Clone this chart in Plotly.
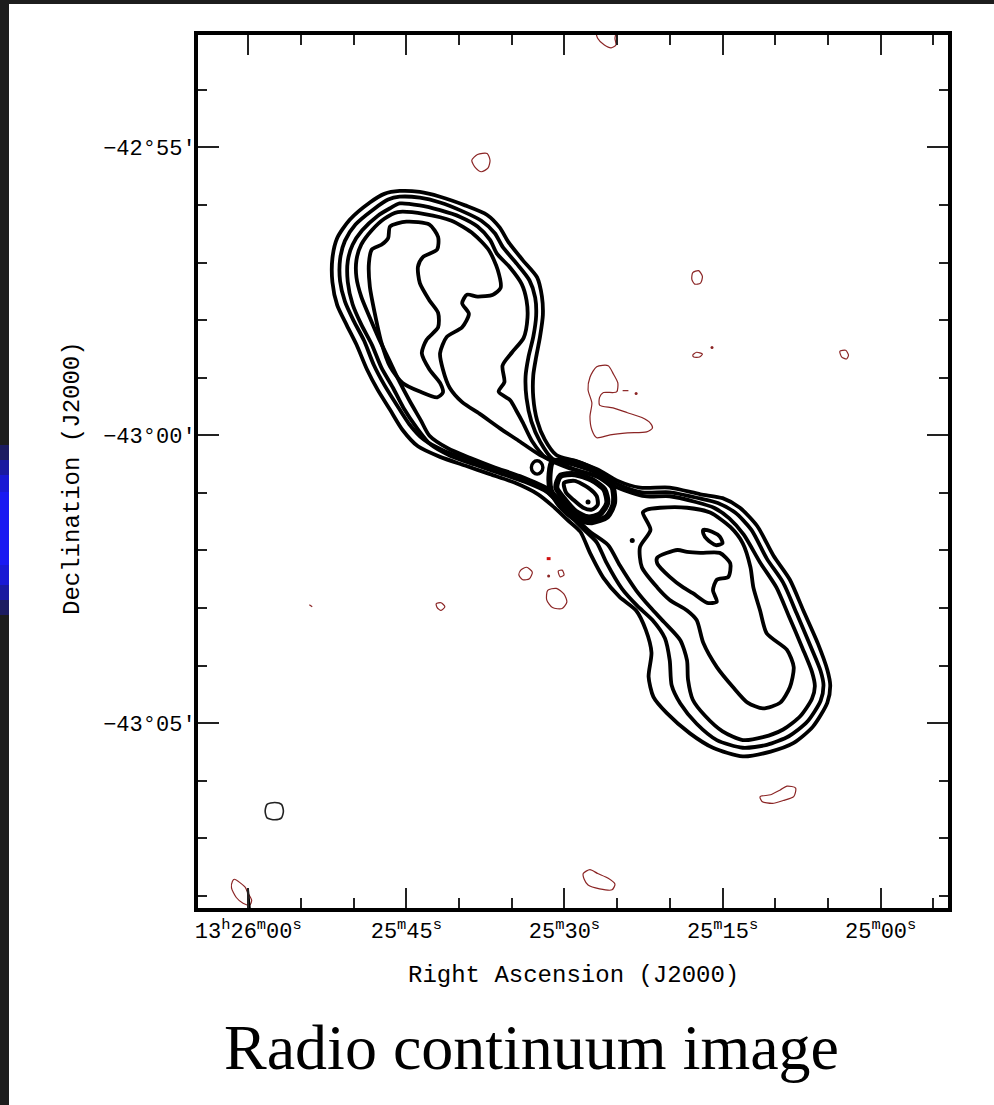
import math
import plotly.graph_objects as go

# Sky reference: the nucleus at RA 13h25m27.58s, Dec -43°01'09.5"
RA0_S = 27.58          # seconds of time past 13h25m00s
DEC0_ARCMIN = -1.158   # arcmin relative to -43°00'00"
COS_DEC = math.cos(math.radians(-43.0193))

# Contour vertices: (east, north) offsets from the nucleus in arcsec
level1_envelope = [
    (198, 324), (177, 323), (156, 318), (130, 309), (107, 299), (94, 286), (85, 271), (70, 252),
    (55, 234), (50, 214), (49, 195), (52, 172), (56, 151), (59, 132), (59, 109), (55, 85),
    (47, 65), (35, 49), (16, 43), (-8, 34), (-29, 22), (-52, 15), (-83, 15), (-115, 8),
    (-138, 4), (-156, -6), (-174, -25), (-191, -56), (-208, -81), (-222, -113), (-237, -147),
    (-247, -175), (-250, -191), (-247, -209), (-232, -234), (-212, -251), (-188, -260),
    (-159, -265), (-128, -256), (-104, -241), (-80, -220), (-66, -203), (-61, -182),
    (-64, -157), (-58, -133), (-48, -113), (-31, -99), (-14, -79), (0, -53), (10, -31),
    (23, -19), (39, -4), (54, 8), (78, 20), (104, 29), (130, 38), (156, 47), (179, 58),
    (195, 75), (208, 96), (221, 117), (232, 138), (243, 164), (253, 184), (263, 205),
    (268, 229), (268, 254), (263, 275), (250, 294), (229, 312), (214, 321),
]
level2_envelope = [
    (198, 318), (177, 317), (156, 312), (133, 303), (113, 293), (99, 280), (91, 266), (76, 248),
    (63, 231), (57, 213), (56, 194), (59, 172), (64, 151), (67, 131), (66, 108), (61, 84),
    (52, 63), (39, 45), (18, 39), (-8, 30), (-30, 18), (-54, 10), (-83, 10), (-113, 4),
    (-133, -1), (-151, -11), (-168, -29), (-184, -59), (-201, -84), (-215, -116), (-229, -149),
    (-240, -176), (-243, -191), (-240, -207), (-226, -229), (-207, -244), (-184, -253),
    (-159, -256), (-132, -248), (-111, -231), (-94, -210), (-85, -191), (-83, -165),
    (-78, -142), (-65, -123), (-49, -108), (-33, -90), (-17, -63), (-7, -42), (6, -29),
    (18, -17), (33, -1), (49, 14), (73, 26), (99, 35), (125, 44), (151, 53), (173, 65),
    (188, 81), (201, 101), (214, 122), (225, 143), (235, 168), (246, 189), (255, 209),
    (260, 230), (260, 253), (255, 272), (244, 289), (225, 305), (210, 315),
]
level3_envelope = [
    (198, 311), (177, 309), (156, 304), (135, 297), (117, 287), (104, 273), (97, 259), (83, 244),
    (71, 227), (66, 210), (65, 192), (69, 171), (81, 156), (91, 142), (89, 125), (95, 115),
    (83, 106), (76, 94), (70, 83),
    (60, 63), (46, 46), (21, 35), (-8, 27), (-31, 14), (-57, 6), (-83, 6), (-110, 0),
    (-129, -6), (-145, -17), (-160, -34), (-177, -63), (-194, -89), (-207, -119), (-221, -152),
    (-231, -177), (-234, -192), (-231, -205), (-219, -223), (-201, -237), (-180, -245),
    (-159, -248), (-138, -239), (-120, -223), (-107, -206), (-102, -185), (-101, -165),
    (-94, -144), (-77, -125), (-63, -110), (-48, -92), (-31, -66), (-19, -45), (0, -31),
    (13, -19), (28, -5), (44, 10), (68, 21), (94, 30), (120, 39), (145, 48), (166, 60),
    (180, 77), (194, 98), (205, 119), (217, 140), (227, 164), (238, 185), (247, 206),
    (252, 229), (252, 251), (247, 268), (237, 283), (221, 298), (208, 306),
]
level4_north = [
    (200, 302), (172, 300), (144, 293), (121, 279), (105, 262), (96, 242), (93, 223), (101, 216),
    (117, 214), (128, 216), (133, 207), (126, 196), (133, 182), (149, 172), (156, 155),
    (153, 138), (146, 119), (133, 104), (115, 92), (94, 77), (73, 63), (52, 49), (33, 41),
    (13, 33), (-10, 25), (-24, 13), (-23, -6), (-14, -17), (0, -20), (15, -13), (29, 0),
    (44, 14), (73, 27), (99, 36), (125, 46), (148, 56), (167, 69), (176, 85), (188, 106),
    (199, 127), (209, 148), (220, 171), (229, 192), (238, 214), (243, 234), (243, 252),
    (238, 268), (227, 283), (214, 295),
]
level5_north = [
    (208, 287), (191, 292), (167, 289), (158, 276), (159, 263), (174, 255), (179, 245),
    (177, 228), (167, 210), (158, 197), (158, 182), (170, 169), (175, 155), (167, 138),
    (156, 124), (153, 114), (159, 109), (177, 115), (195, 124), (208, 141), (217, 166),
    (224, 197), (229, 224), (230, 249), (227, 263), (217, 268), (210, 275),
]
level4_south = [
    (-55, -11), (-63, -29), (-52, -47), (-54, -68), (-70, -89), (-83, -102), (-101, -113),
    (-111, -123), (-118, -147), (-132, -172), (-149, -193), (-164, -209), (-180, -215),
    (-198, -209), (-208, -193), (-212, -172), (-205, -154), (-184, -137), (-177, -113),
    (-170, -89), (-167, -68), (-159, -43), (-146, -26), (-125, -11), (-101, -6), (-73, -6),
    (-59, -8),
]
level5_south = [
    (-70, -58), (-91, -50), (-101, -52), (-115, -53), (-135, -53), (-146, -64), (-144, -78),
    (-132, -81), (-128, -92), (-132, -104), (-122, -105), (-107, -95), (-97, -89), (-83, -78),
    (-70, -64),
]
level5_south_knot = [
    (-118, -29), (-127, -31), (-135, -36), (-138, -43), (-131, -45), (-122, -39), (-118, -33),
]
core_outer = [
    (39, 42), (16, 42), (-8, 31), (-23, 17), (-25, -1), (-18, -15), (-2, -21), (16, -17),
    (31, -4), (41, 13), (42, 29),
]
core_ring = [
    (31, 27), (16, 29), (-2, 23), (-15, 13), (-18, -1), (-10, -13), (2, -16), (15, -10),
    (26, 2), (35, 15),
]
core_peak = [
    (27, 20), (16, 22), (2, 15), (-7, 6), (-8, -3), (-2, -8), (7, -6), (17, 2), (25, 10),
]
jet_knot = [
    (61, 36), (59, 41), (55, 43), (51, 41), (49, 36), (51, 31), (55, 29), (59, 31),
]
isolated_black = [
    (338, -322), (336, -315), (328, -313), (321, -315), (319, -322), (321, -329), (328, -331),
    (336, -329),
]
edge_black = [(356, -404), (354, -425)]
black_points = [(2, 0), (-44, -40)]

# Low-level (thin, dark red) contours
red_top = [(-6, 497), (-8, 483), (-15, 476), (-22, 473), (-27, 476), (-26, 483), (-28, 497)]
red_north = [(123, 356), (117, 362), (107, 363), (104, 356), (106, 348), (113, 344), (119, 348)]
red_ne_small = [(-107, 239), (-113, 241), (-117, 235), (-115, 228), (-109, 227), (-106, 232)]
red_dash_a = [(-107, 153), (-111, 156), (-117, 154), (-114, 151), (-108, 151)]
red_far_west = [(-260, 157), (-266, 158), (-269, 153), (-267, 149), (-262, 151)]
red_patch = [
    (-7, 141), (-19, 142), (-24, 134), (-29, 124), (-28, 115), (-24, 114), (-14, 114),
    (-10, 109), (-10, 101), (-24, 98), (-39, 93), (-54, 88), (-63, 82), (-65, 77), (-59, 73),
    (-39, 72), (-21, 70), (-7, 67), (-2, 75), (0, 89), (-2, 103), (2, 117), (0, 130),
]
red_patch_dash = [(-34, 116), (-40, 116)]
red_s1 = [(72, -71), (66, -68), (60, -73), (63, -80), (70, -81), (74, -76)]
red_s2 = [(33, -72), (29, -71), (27, -76), (31, -78)]
red_s3 = [(44, -92), (35, -90), (27, -96), (24, -104), (29, -111), (39, -110), (45, -102)]
red_s4 = [(160, -106), (155, -105), (151, -109), (155, -113), (159, -110)]
red_tick_east = [(292, -107), (289, -109)]
red_sw = [
    (-177, -307), (-188, -305), (-198, -300), (-205, -296), (-214, -298), (-212, -307),
    (-201, -311), (-190, -314), (-179, -312),
]
red_south = [
    (7, -387), (0, -383), (-8, -387), (-19, -392), (-26, -398), (-23, -404), (-10, -403),
    (2, -399), (6, -393),
]
red_corner = [
    (370, -393), (359, -401), (356, -407), (352, -415), (354, -420), (361, -418), (368, -412),
    (373, -402), (372, -395),
]
red_bright_dash = [(45, -59), (41, -59)]
red_points = [(-127, 161), (-48, 113), (43, -77)]

# Axis ticks
ra_major = [60, 45, 30, 15, 0]
ra_major_text = [
    "13<sup>h</sup>26<sup>m</sup>00<sup>s</sup>",
    "25<sup>m</sup>45<sup>s</sup>",
    "25<sup>m</sup>30<sup>s</sup>",
    "25<sup>m</sup>15<sup>s</sup>",
    "25<sup>m</sup>00<sup>s</sup>",
]
ra_minor = [55, 50, 40, 35, 25, 20, 10, 5, -5]
dec_major = [5, 0, -5]
dec_major_text = ["\u221242\u00b055\u2032", "\u221243\u00b000\u2032", "\u221243\u00b005\u2032"]
dec_minor = [6, 4, 3, 2, 1, -1, -2, -3, -4, -6, -7, -8]


def to_sky(points, close=True):
    """Offsets (arcsec E, arcsec N) -> (RA seconds past 13h25m, Dec arcmin from -43°)."""
    pts = list(points) + ([points[0]] if close else [])
    ra = [RA0_S + e / (15.0 * COS_DEC) for e, _ in pts]
    dec = [DEC0_ARCMIN + n / 60.0 for _, n in pts]
    return ra, dec


fig = go.Figure()


def add_line(points, color, width, close=True, smooth=True):
    x, y = to_sky(points, close)
    fig.add_trace(go.Scatter(
        x=x, y=y, mode="lines",
        line=dict(color=color, width=width, shape="spline" if smooth else "linear",
                  smoothing=0.7),
        hoverinfo="skip", showlegend=False,
    ))


def add_points(points, color, size):
    x, y = to_sky(points, close=False)
    fig.add_trace(go.Scatter(
        x=x, y=y, mode="markers", marker=dict(color=color, size=size),
        hoverinfo="skip", showlegend=False,
    ))


RED = "#8b2525"
for contour in [red_top, red_north, red_ne_small, red_dash_a, red_far_west, red_patch,
                red_s1, red_s2, red_s3, red_s4, red_sw, red_south, red_corner]:
    add_line(contour, RED, 1.2)
for seg in [red_patch_dash, red_tick_east]:
    add_line(seg, RED, 1.2, close=False, smooth=False)
add_line(red_bright_dash, "#d01010", 3, close=False, smooth=False)
add_points(red_points, RED, 3)

BLACK_W = 3.8
for contour in [level1_envelope, level2_envelope, level3_envelope, level4_north,
                level5_north, level4_south, level5_south, level5_south_knot]:
    add_line(contour, "black", BLACK_W)
for contour in [core_outer, core_ring]:
    add_line(contour, "black", 6)
add_line(core_peak, "black", 4)
add_line(jet_knot, "black", 3.4)
add_line(isolated_black, "#222222", 1.6)
add_line(edge_black, "black", 2.4, close=False, smooth=False)
add_points(black_points, "black", 5)

# Page geometry (pixels)
W, H = 994, 1105
ML, MR, MT, MB = 198, 46, 35, 197
PW, PH = W - ML - MR, H - MT - MB


def px_x(px):
    return (px - ML) / PW


def px_y(py):
    return (H - MB - py) / PH


tick_font = dict(family="Liberation Mono, DejaVu Sans Mono, monospace", size=22, color="black")
title_font = dict(family="Liberation Mono, DejaVu Sans Mono, monospace", size=24, color="black")

fig.update_layout(
    width=W, height=H,
    margin=dict(l=ML, r=MR, t=MT, b=MB, pad=0),
    paper_bgcolor="white", plot_bgcolor="white",
    showlegend=False, hovermode=False,
    xaxis=dict(
        range=[64.77, -6.39], tickmode="array", tickvals=ra_major, ticktext=ra_major_text,
        ticks="inside", ticklen=20, tickwidth=2, tickcolor="#222",
        minor=dict(ticks="inside", ticklen=10, tickwidth=2, tickcolor="#222",
                   tickmode="array", tickvals=ra_minor, showgrid=False),
        showline=True, linewidth=4, linecolor="black", mirror="ticks",
        showgrid=False, zeroline=False, tickfont=tick_font,
    ),
    yaxis=dict(
        range=[-8.207, 6.95], tickmode="array", tickvals=dec_major, ticktext=dec_major_text,
        ticks="inside", ticklen=21, tickwidth=2, tickcolor="#222",
        minor=dict(ticks="inside", ticklen=9, tickwidth=2, tickcolor="#222",
                   tickmode="array", tickvals=dec_minor, showgrid=False),
        showline=True, linewidth=4, linecolor="black", mirror="ticks",
        showgrid=False, zeroline=False, tickfont=tick_font, ticklabelstandoff=-6,
    ),
)

# Dark slide border with a blue glow on the left edge
shapes = [
    dict(type="rect", xref="paper", yref="paper", x0=px_x(0), x1=px_x(W), y0=px_y(4), y1=px_y(0),
         fillcolor="#1d1d1d", line=dict(width=0), layer="below"),
    dict(type="rect", xref="paper", yref="paper", x0=px_x(0), x1=px_x(9), y0=px_y(H), y1=px_y(0),
         fillcolor="#1d1d1d", line=dict(width=0), layer="below"),
]
for y0, y1, op in [(445, 615, 0.3), (460, 600, 0.4), (475, 585, 0.55), (492, 565, 0.7)]:
    shapes.append(dict(type="rect", xref="paper", yref="paper", x0=px_x(0), x1=px_x(9),
                       y0=px_y(y1), y1=px_y(y0), fillcolor="#1a1aff", opacity=op,
                       line=dict(width=0), layer="below"))
fig.update_layout(shapes=shapes)

fig.add_annotation(text="Right Ascension (J2000)", xref="paper", yref="paper",
                   x=px_x(573), y=px_y(975), xanchor="center", yanchor="middle",
                   showarrow=False, font=title_font)
fig.add_annotation(text="Declination (J2000)", xref="paper", yref="paper",
                   x=px_x(72), y=px_y(478), xanchor="center", yanchor="middle",
                   textangle=-90, showarrow=False, font=title_font)
fig.add_annotation(text="Radio continuum image", xref="paper", yref="paper",
                   x=px_x(531), y=px_y(1047), xanchor="center", yanchor="middle",
                   showarrow=False,
                   font=dict(family="Liberation Serif, Times New Roman, serif", size=64,
                             color="black"))

fig.write_html("out.html")
